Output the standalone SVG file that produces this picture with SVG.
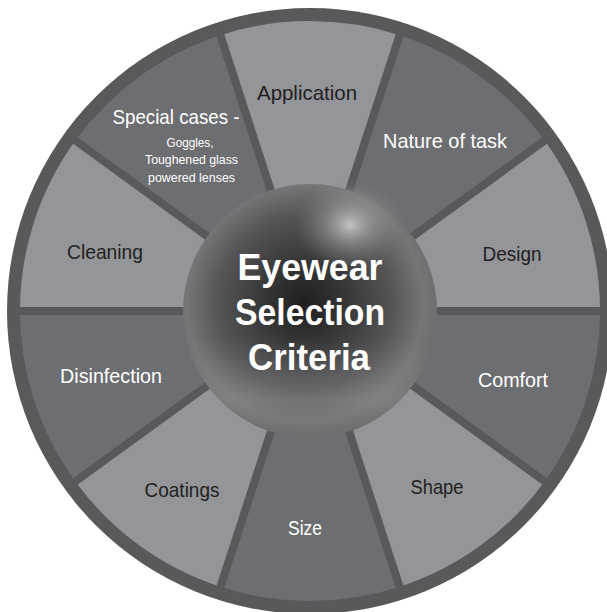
<svg xmlns="http://www.w3.org/2000/svg" width="607" height="612" viewBox="0 0 607 612">
<defs>
<style>
.light{fill:#939598}
.dark{fill:#6d6e71}
.lbl{font-family:"Liberation Sans",Arial,sans-serif;font-size:21px;text-anchor:middle}
.dt{fill:#231f20}
.wt{fill:#ffffff}
.sub{font-family:"Liberation Sans",Arial,sans-serif;font-size:13px;text-anchor:middle;fill:#ffffff}
.div{stroke:#58595b;stroke-width:8;stroke-linecap:butt}
.title{font-family:"Liberation Sans",Arial,sans-serif;font-size:37px;font-weight:bold;text-anchor:middle;fill:#ffffff}
</style>
<radialGradient id="sph" cx="0.48" cy="0.47" r="0.53">
<stop offset="0" stop-color="#1e1e1e"/>
<stop offset="0.3" stop-color="#363637"/>
<stop offset="0.65" stop-color="#555557"/>
<stop offset="0.88" stop-color="#767678"/>
<stop offset="1" stop-color="#6c6c6e"/>
</radialGradient>
<radialGradient id="hl" cx="0.5" cy="0.5" r="0.5">
<stop offset="0" stop-color="#cfcfcf" stop-opacity="0.9"/>
<stop offset="0.45" stop-color="#a5a5a5" stop-opacity="0.5"/>
<stop offset="1" stop-color="#888888" stop-opacity="0"/>
</radialGradient>
<linearGradient id="low" x1="0" y1="0" x2="0" y2="1">
<stop offset="0" stop-color="#888888" stop-opacity="0"/>
<stop offset="0.6" stop-color="#888888" stop-opacity="0"/>
<stop offset="0.85" stop-color="#9a9a9a" stop-opacity="0.35"/>
<stop offset="1" stop-color="#6a6a6a" stop-opacity="0.2"/>
</linearGradient>
</defs>
<circle cx="310" cy="311" r="303" fill="#58595b"/>
<g id="application"><path class="light" d="M310 311 L220.38 35.19 A290 290 0 0 1 399.62 35.19 Z"/><text class="lbl dt" x="307" y="100" textLength="100" lengthAdjust="spacingAndGlyphs">Application</text></g>
<g id="nature-of-task"><path class="dark" d="M310 311 L399.62 35.19 A290 290 0 0 1 544.62 140.54 Z"/><text class="lbl wt" x="445" y="148" textLength="124" lengthAdjust="spacingAndGlyphs">Nature of task</text></g>
<g id="design"><path class="light" d="M310 311 L544.62 140.54 A290 290 0 0 1 600 311 Z"/><text class="lbl dt" x="512" y="261" textLength="59" lengthAdjust="spacingAndGlyphs">Design</text></g>
<g id="comfort"><path class="dark" d="M310 311 L600 311 A290 290 0 0 1 544.62 481.46 Z"/><text class="lbl wt" x="513" y="387" textLength="70" lengthAdjust="spacingAndGlyphs">Comfort</text></g>
<g id="shape"><path class="light" d="M310 311 L544.62 481.46 A290 290 0 0 1 399.62 586.81 Z"/><text class="lbl dt" x="437" y="494" textLength="53" lengthAdjust="spacingAndGlyphs">Shape</text></g>
<g id="size"><path class="dark" d="M310 311 L399.62 586.81 A290 290 0 0 1 220.38 586.81 Z"/><text class="lbl wt" x="305" y="535" textLength="34" lengthAdjust="spacingAndGlyphs">Size</text></g>
<g id="coatings"><path class="light" d="M310 311 L220.38 586.81 A290 290 0 0 1 75.38 481.46 Z"/><text class="lbl dt" x="182" y="497" textLength="75" lengthAdjust="spacingAndGlyphs">Coatings</text></g>
<g id="disinfection"><path class="dark" d="M310 311 L75.38 481.46 A290 290 0 0 1 20 311 Z"/><text class="lbl wt" x="111" y="383" textLength="102" lengthAdjust="spacingAndGlyphs">Disinfection</text></g>
<g id="cleaning"><path class="light" d="M310 311 L20 311 A290 290 0 0 1 75.38 140.54 Z"/><text class="lbl dt" x="105" y="259" textLength="76" lengthAdjust="spacingAndGlyphs">Cleaning</text></g>
<g id="special-cases"><path class="dark" d="M310 311 L75.38 140.54 A290 290 0 0 1 220.38 35.19 Z"/><text class="lbl wt" x="176" y="124" textLength="127" lengthAdjust="spacingAndGlyphs">Special cases -</text><text class="sub" x="190" y="147" textLength="47" lengthAdjust="spacingAndGlyphs">Goggles,</text><text class="sub" x="191.5" y="164" textLength="93" lengthAdjust="spacingAndGlyphs">Toughened glass</text><text class="sub" x="191.5" y="182" textLength="87" lengthAdjust="spacingAndGlyphs">powered lenses</text></g>
<g id="dividers">
<line class="div" x1="310" y1="311" x2="219.77" y2="33.29"/>
<line class="div" x1="310" y1="311" x2="400.23" y2="33.29"/>
<line class="div" x1="310" y1="311" x2="546.23" y2="139.37"/>
<line class="div" x1="310" y1="311" x2="602" y2="311"/>
<line class="div" x1="310" y1="311" x2="546.23" y2="482.63"/>
<line class="div" x1="310" y1="311" x2="400.23" y2="588.71"/>
<line class="div" x1="310" y1="311" x2="219.77" y2="588.71"/>
<line class="div" x1="310" y1="311" x2="73.77" y2="482.63"/>
<line class="div" x1="310" y1="311" x2="18" y2="311"/>
<line class="div" x1="310" y1="311" x2="73.77" y2="139.37"/>
</g>
<g id="center">
<circle cx="310" cy="311" r="127" fill="url(#sph)"/>
<circle cx="310" cy="311" r="127" fill="url(#low)"/>
<ellipse cx="350" cy="225" rx="55" ry="45" fill="url(#hl)"/>
<text class="title" x="310" y="280" textLength="145" lengthAdjust="spacingAndGlyphs">Eyewear</text>
<text class="title" x="310" y="325" textLength="150" lengthAdjust="spacingAndGlyphs">Selection</text>
<text class="title" x="309" y="370" textLength="122" lengthAdjust="spacingAndGlyphs">Criteria</text>
</g>
</svg>
